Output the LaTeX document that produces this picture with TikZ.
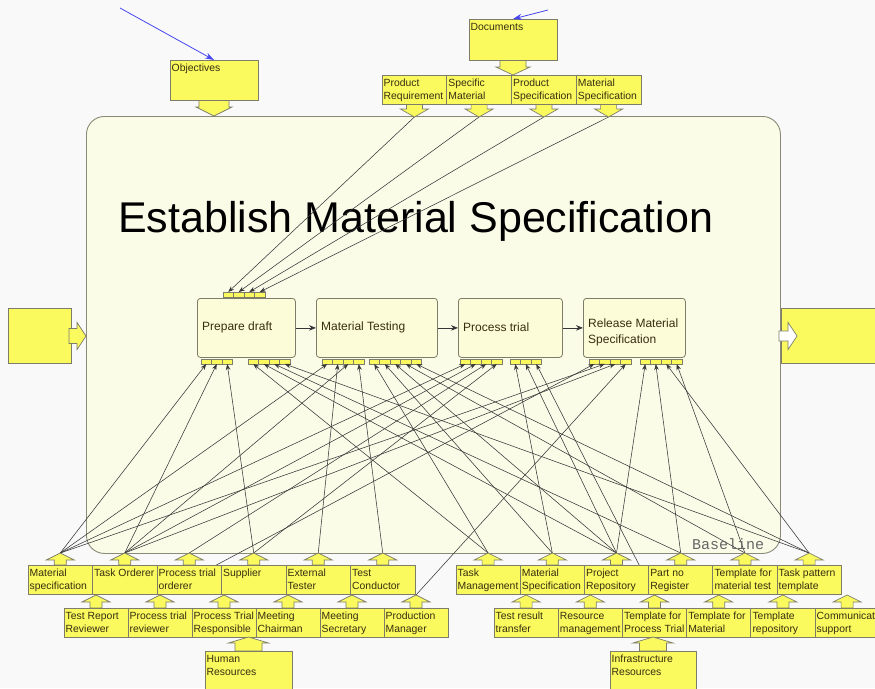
\documentclass[tikz,border=0pt]{standalone}
\usepackage{fontspec}
\setmainfont{Liberation Sans}
\newfontfamily\monofont{Liberation Mono}
\usetikzlibrary{arrows.meta}
\definecolor{bgc}{RGB}{249,249,249}
\definecolor{mainfill}{RGB}{250,252,232}
\definecolor{ylw}{RGB}{250,250,95}
\definecolor{edge}{RGB}{125,125,105}
\definecolor{procfill}{RGB}{252,252,216}
\definecolor{txt}{RGB}{55,45,15}
\definecolor{conncol}{RGB}{55,55,55}
\definecolor{bluec}{RGB}{70,70,240}
\tikzset{
  ybox/.style={draw=edge, fill=ylw, line width=0.8pt, inner sep=0pt, outer sep=0pt, anchor=north west},
  ylabel/.style={font=\fontsize{10.4}{13}\selectfont, text=txt, align=left, inner sep=1pt, anchor=north west},
  blockarr/.style={draw=edge, fill=ylw, line width=0.7pt, line join=miter},
  whitearr/.style={draw=edge, fill=white, line width=0.7pt, line join=miter},
  tabn/.style={draw=edge, fill=ylw, line width=0.5pt, minimum width=10.5pt, minimum height=5pt, inner sep=0pt, outer sep=0pt},
  conn/.style={draw=conncol, line width=0.55pt, -{Stealth[length=6pt,width=4.5pt]}},
  flow/.style={draw=conncol, line width=0.7pt, -{Stealth[length=7pt,width=5.5pt]}},
  procbox/.style={draw=edge, fill=procfill, rounded corners=3pt, line width=0.8pt, anchor=north west, inner sep=0pt},
  proclabel/.style={font=\fontsize{12}{16}\selectfont, text=txt, align=left, anchor=west, inner sep=0pt},
  bluearr/.style={draw=bluec, line width=0.8pt, -{Stealth[length=9pt,width=6pt]}, bluec},
}
% yellow box with top-left text: name, x, y, w, h, text
\newcommand\ybx[6]{%
  \node[ybox, minimum width=#4pt, minimum height=#5pt] (#1) at (#2,#3) {};
  \node[ylabel] (#1-t) at (#2+0.5,#3+2.8) {#6};}
% up block arrow: tip x, tip y, head half width, head length, stem half width, stem length
\newcommand\uarr[7][blockarr]{%
  \draw[#1] (#2,#3) -- ++(#4,#5) -- ++(-#4+#6,0) -- ++(0,#7) -- ++(-2*#6,0) -- ++(0,-#7) -- ++(-#4+#6,0) -- cycle;}
% down block arrow
\newcommand\darr[7][blockarr]{%
  \draw[#1] (#2,#3) -- ++(#4,-#5) -- ++(-#4+#6,0) -- ++(0,-#7) -- ++(-2*#6,0) -- ++(0,#7) -- ++(-#4+#6,0) -- cycle;}
% right block arrow
\newcommand\rarr[7][blockarr]{%
  \draw[#1] (#2,#3) -- ++(-#5,-#4) -- ++(0,#4-#6) -- ++(-#7,0) -- ++(0,2*#6) -- ++(#7,0) -- ++(0,#4-#6) -- cycle;}
\begin{document}
\begin{tikzpicture}[x=1pt,y=-1pt]
\useasboundingbox (0,0) rectangle (875,688);
\clip (0,0) rectangle (875,688);
\fill[bgc] (0,0) rectangle (875,688);

% main activity box
\node[draw=edge!90, fill=mainfill, rounded corners=18pt, line width=0.9pt, anchor=north west,
      minimum width=694pt, minimum height=437pt, inner sep=0pt] (main) at (86,116) {};
\node[anchor=base west, inner sep=0pt, font=\fontsize{43}{50}\selectfont] (title) at (118,232) {Establish Material Specification};

% tabs (ports)
\foreach \i in {1,...,4} \node[tabn] (pdT\i) at ({223+10.5*(\i-0.5)},294.5) {};
\foreach \i in {1,...,3} \node[tabn] (pdA\i) at ({201+10.5*(\i-0.5)},361.5) {};
\foreach \i in {1,...,4} \node[tabn] (pdB\i) at ({248+10.5*(\i-0.5)},361.5) {};
\foreach \i in {1,...,4} \node[tabn] (mtA\i) at ({322+10.5*(\i-0.5)},361.5) {};
\foreach \i in {1,...,5} \node[tabn] (mtB\i) at ({369+10.5*(\i-0.5)},361.5) {};
\foreach \i in {1,...,4} \node[tabn] (ptA\i) at ({460+10.5*(\i-0.5)},361.5) {};
\foreach \i in {1,...,3} \node[tabn] (ptB\i) at ({510+10.5*(\i-0.5)},361.5) {};
\foreach \i in {1,...,4} \node[tabn] (rmA\i) at ({589+10.5*(\i-0.5)},361.5) {};
\foreach \i in {1,...,4} \node[tabn] (rmB\i) at ({640+10.5*(\i-0.5)},361.5) {};

% source points (tips of the block arrows)
\coordinate (PRq) at (414.4,117); \coordinate (SMt) at (479.1,117);
\coordinate (PSp) at (543.9,117); \coordinate (MSp) at (608.6,117);
\coordinate (MS) at (60.25,553); \coordinate (TO) at (124.75,553); \coordinate (PTO) at (189.25,553);
\coordinate (SU) at (253.75,553); \coordinate (ET) at (318.25,553); \coordinate (TC) at (382.75,553);
\coordinate (TRR) at (96,595); \coordinate (PTRv) at (160,595); \coordinate (PTRs) at (224,595);
\coordinate (MC) at (288,595); \coordinate (MSec) at (352,595); \coordinate (PM) at (416,595);
\coordinate (TM) at (488.1,553); \coordinate (MSR) at (552.3,553); \coordinate (PRep) at (616.5,553);
\coordinate (PnR) at (680.7,553); \coordinate (TMT) at (744.9,553); \coordinate (TPT) at (809.1,553);
\coordinate (TRT) at (526.1,595); \coordinate (RM) at (590.3,595); \coordinate (TPTr) at (654.5,595);
\coordinate (TfM) at (718.7,595); \coordinate (TR) at (782.9,595); \coordinate (CS) at (847.1,595);

% connectors: inputs
\draw[conn] (PRq) -- (pdT1.north);
\draw[conn] (SMt) -- (pdT2.north);
\draw[conn] (PSp) -- (pdT3.north);
\draw[conn] (MSp) -- (pdT4.north);
% connectors: mechanisms
\draw[conn] (MS) -- (pdA1.south);
\draw[conn] (TO) -- (pdA2.south);
\draw[conn] (SU) -- (pdA3.south);
\draw[conn] (TM) -- (pdB1.south);
\draw[conn] (PRep) -- (pdB2.south);
\draw[conn] (PnR) -- (pdB3.south);
\draw[conn] (TPT) -- (pdB4.south);
\draw[conn] (MS) -- (mtA1.south);
\draw[conn] (ET) -- (mtA2.south);
\draw[conn] (TO) -- (mtA3.south);
\draw[conn] (TC) -- (mtA4.south);
\draw[conn] (TM) -- (mtB1.south);
\draw[conn] (MSR) -- (mtB2.south);
\draw[conn] (PRep) -- (mtB3.south);
\draw[conn] (TMT) -- (mtB4.south);
\draw[conn] (TPT) -- (mtB5.south);
\draw[conn] (MS) -- (ptA1.south);
\draw[conn] (TO) -- (ptA2.south);
\draw[conn] (PTO) -- (ptA3.south);
\draw[conn] (SU) -- (ptA4.south);
\draw[conn] (MSR) -- (ptB1.south);
\draw[conn] (PRep) -- (ptB2.south);
\draw[conn] (TPTr) -- (ptB3.south);
\draw[conn] (PTRv) -- (rmA1.south);
\draw[conn] (MS) -- (rmA2.south);
\draw[conn] (TO) -- (rmA3.south);
\draw[conn] (PM) -- (rmA4.south);
\draw[conn] (PRep) -- (rmB1.south);
\draw[conn] (PnR) -- (rmB2.south);
\draw[conn] (TPT) -- (rmB3.south);
\draw[conn] (TMT) -- (rmB4.south);

% activity boxes
\node[procbox, minimum width=98pt, minimum height=59pt] (pd) at (197,298) {};
\node[proclabel] (pd-t) at (202,327) {Prepare draft};
\node[procbox, minimum width=121pt, minimum height=59pt] (mt) at (316,298) {};
\node[proclabel] (mt-t) at (321,327) {Material Testing};
\node[procbox, minimum width=104pt, minimum height=59pt] (pt) at (458,298) {};
\node[proclabel] (pt-t) at (463,327) {Process trial};
\node[procbox, minimum width=102pt, minimum height=59pt] (rm) at (583,298) {};
\node[proclabel] (rm-t) at (588,332) {Release Material\\Specification};
\draw[flow] (pd) -- (mt);
\draw[flow] (mt) -- (pt);
\draw[flow] (pt) -- (rm);

% bottom left rows
\foreach \x in {60.25,124.75,189.25,253.75,318.25,382.75} \uarr{\x}{553}{14}{7}{6}{5};
\ybx{ms}{28}{565}{64.5}{29}{Material\\specification}
\ybx{to}{92.5}{565}{64.5}{29}{Task Orderer}
\ybx{pto}{157}{565}{64.5}{29}{Process trial\\orderer}
\ybx{su}{221.5}{565}{64.5}{29}{Supplier}
\ybx{et}{286}{565}{64.5}{29}{External\\Tester}
\ybx{tc}{350.5}{565}{64.5}{29}{Test\\Conductor}
\foreach \x in {96,160,224,288,352,416} \uarr{\x}{595}{14}{7}{6}{6};
\ybx{trr}{64}{608}{64}{29}{Test Report\\Reviewer}
\ybx{ptrv}{128}{608}{64}{29}{Process trial\\reviewer}
\ybx{ptrs}{192}{608}{64}{29}{Process Trial\\Responsible}
\ybx{mc}{256}{608}{64}{29}{Meeting\\Chairman}
\ybx{msec}{320}{608}{64}{29}{Meeting\\Secretary}
\ybx{pm}{384}{608}{64}{29}{Production\\Manager}
\uarr{248.5}{637}{20}{6}{13.5}{8}
\ybx{hr}{205}{651}{87}{60}{Human\\Resources}

% bottom right rows
\foreach \x in {488.1,552.3,616.5,680.7,744.9,809.1} \uarr{\x}{553}{14}{7}{6}{5};
\ybx{tm}{456}{565}{64.2}{29}{Task\\Management}
\ybx{msr}{520.2}{565}{64.2}{29}{Material\\Specification}
\ybx{prep}{584.4}{565}{64.2}{29}{Project\\Repository}
\ybx{pnr}{648.6}{565}{64.2}{29}{Part no\\Register}
\ybx{tmt}{712.8}{565}{64.2}{29}{Template for\\material test}
\ybx{tpt}{777}{565}{64.2}{29}{Task pattern\\template}
\foreach \x in {526.1,590.3,654.5,718.7,782.9,847.1} \uarr{\x}{595}{14}{7}{6}{6};
\ybx{trt}{494}{608}{64.2}{29}{Test result\\transfer}
\ybx{rmg}{558.2}{608}{64.2}{29}{Resource\\management}
\ybx{tptr}{622.4}{608}{64.2}{29}{Template for\\Process Trial}
\ybx{tfm}{686.6}{608}{64.2}{29}{Template for\\Material}
\ybx{trp}{750.8}{608}{64.2}{29}{Template\\repository}
\ybx{cs}{815}{608}{64.2}{29}{Communication\\support}
\uarr{653}{637}{20}{6}{13.5}{8}
\ybx{ir}{610}{651}{86}{60}{Infrastructure\\Resources}

% top boxes
\darr{214}{116}{18}{9}{15}{7}
\ybx{obj}{170}{60}{88}{40}{Objectives}
\darr{513}{75}{17}{8}{13}{7}
\ybx{doc}{469}{19}{88}{41}{Documents}
\foreach \x in {414.4,479.1,543.9,608.6} \darr{\x}{117}{14}{8}{8}{5};
\ybx{prq}{382}{75}{64.75}{29}{Product\\Requirement}
\ybx{smt}{446.75}{75}{64.75}{29}{Specific\\Material}
\ybx{psp}{511.5}{75}{64.75}{29}{Product\\Specification}
\ybx{msp}{576.25}{75}{64.75}{29}{Material\\Specification}

% side boxes
\ybx{inp}{8}{308}{63}{55}{}
\rarr{86}{336}{13.5}{9}{7.5}{8}
\ybx{outp}{781}{308}{100}{55}{}
\rarr[whitearr]{797}{336}{13.5}{9}{5}{9}

% blue arrows
\coordinate (b1) at (120,8);
\coordinate (b2) at (548,10);
\draw[bluearr] (b1) -- (obj.north);
\draw[bluearr] (b2) -- (doc.north);

\node[anchor=base west, inner sep=0pt, font=\monofont\fontsize{15}{18}\selectfont, text=black!60] (bl) at (692,549) {Baseline};
\end{tikzpicture}
\end{document}
